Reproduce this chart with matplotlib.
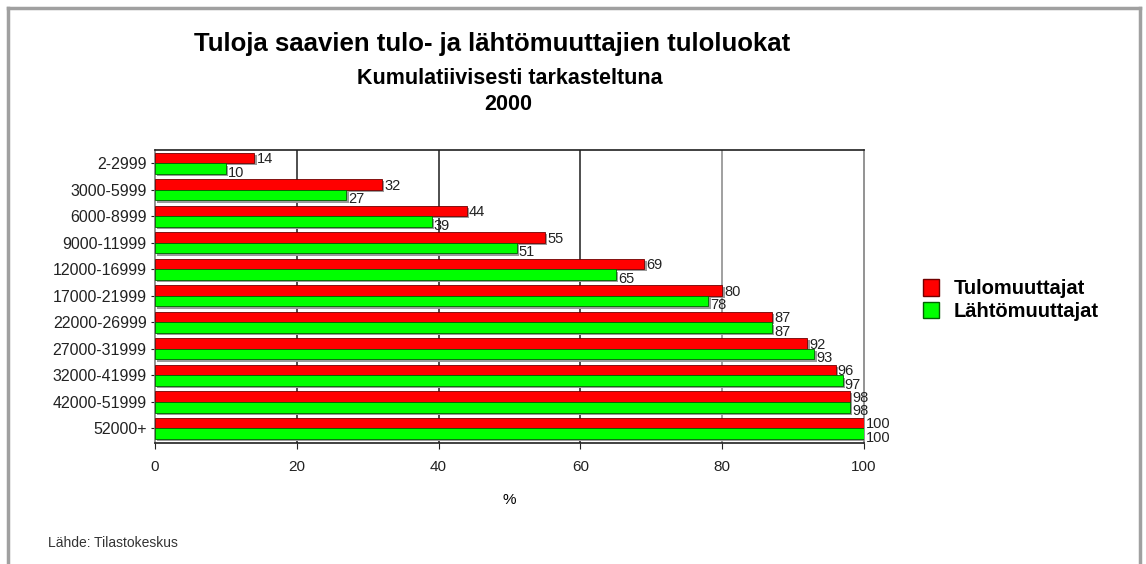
import matplotlib
matplotlib.use("Agg")
import matplotlib.pyplot as plt
import numpy as np
from matplotlib.lines import Line2D
from matplotlib.patches import Patch

categories = ["2-2999", "3000-5999", "6000-8999", "9000-11999", "12000-16999",
              "17000-21999", "22000-26999", "27000-31999", "32000-41999",
              "42000-51999", "52000+"]
tulo = [14, 32, 44, 55, 69, 80, 87, 92, 96, 98, 100]
lahto = [10, 27, 39, 51, 65, 78, 87, 93, 97, 98, 100]
series_names = ["Tulomuuttajat", "Lähtömuuttajat"]
xticks = [0, 20, 40, 60, 80, 100]

plt.rcParams['font.family'] = ['Liberation Sans', 'DejaVu Sans']

fig = plt.figure(figsize=(11.46, 5.64), dpi=100)
ax = fig.add_axes([155/1146, 1-443/564, (864-155)/1146, (443-150)/564])

y = np.arange(len(categories))
h = 0.40
red = '#ff0000'
green = '#00ff00'
shadow = '#9a9a9a'

# shadows
ax.barh(y - 0.2 + 0.07, tulo, height=h, left=0.35, color=shadow, zorder=1)
ax.barh(y + 0.2 + 0.09, lahto, height=h, left=0.35, color=shadow, zorder=1)
ax.barh(y - 0.2, tulo, height=h, color=red, edgecolor='#700000', linewidth=0.6, zorder=3)
ax.barh(y + 0.2, lahto, height=h, color=green, edgecolor='#006000', linewidth=0.6, zorder=3)

for i in range(len(categories)):
    ax.text(tulo[i] + 0.3, y[i] - 0.16, str(tulo[i]), fontsize=10.5, color='#222222',
            va='center', ha='left', zorder=4)
    ax.text(lahto[i] + 0.3, y[i] + 0.36, str(lahto[i]), fontsize=10.5, color='#222222',
            va='center', ha='left', zorder=4)

ax.set_xlim(0, 100)
ax.set_ylim(len(categories) - 0.45, -0.5)
ax.set_xticks(xticks)
ax.set_xticklabels([str(v) for v in xticks], fontsize=11)
ax.set_yticks(y)
ax.set_yticklabels(categories, fontsize=11.5)
ax.tick_params(axis='x', length=4, pad=8, colors='#222222')
ax.tick_params(axis='y', length=3, pad=3, colors='#222222')
for xv in xticks[1:-1]:
    ax.axvline(xv, color='#303030' if xv != 80 else '#909090', linewidth=1.2, zorder=0)
ax.set_xlabel('%', fontsize=11, labelpad=14)
for s in ['left', 'right']:
    ax.spines[s].set_color('#808080')
ax.spines['top'].set_color('#202020')
ax.spines['bottom'].set_color('#202020')
for s in ax.spines.values():
    s.set_linewidth(1.2)

fig.text(492/1146, 1-44/564, "Tuloja saavien tulo- ja lähtömuuttajien tuloluokat",
         fontsize=18.5, fontweight='bold', ha='center', va='center')
fig.text(510/1146, 1-79/564, "Kumulatiivisesti tarkasteltuna",
         fontsize=15.5, fontweight='bold', ha='center', va='center')
fig.text(508/1146, 1-105/564, "2000",
         fontsize=15.5, fontweight='bold', ha='center', va='center')
fig.text(48/1146, 1-543/564, "Lähde: Tilastokeskus", fontsize=10, ha='left', va='center',
         color='#333333')

handles = [Patch(facecolor=red, edgecolor='#700000'), Patch(facecolor=green, edgecolor='#006000')]
fig.legend(handles, series_names, loc='center left', bbox_to_anchor=(905/1146, 1-300/564),
           frameon=False, prop={'weight': 'bold', 'size': 14.5}, handlelength=0.8,
           handleheight=0.9, handletextpad=0.7, labelspacing=0.15)

# figure border
fig.add_artist(Line2D([8/1146, 8/1146], [0, 1-8/564], color='#a0a0a0', linewidth=2.5,
                      transform=fig.transFigure))
fig.add_artist(Line2D([8/1146, 1140/1146], [1-8/564, 1-8/564], color='#a0a0a0', linewidth=2.5,
                      transform=fig.transFigure))
fig.add_artist(Line2D([1140/1146, 1140/1146], [0, 1-8/564], color='#a0a0a0', linewidth=2.5,
                      transform=fig.transFigure))

fig.savefig('out.png', dpi=100)
